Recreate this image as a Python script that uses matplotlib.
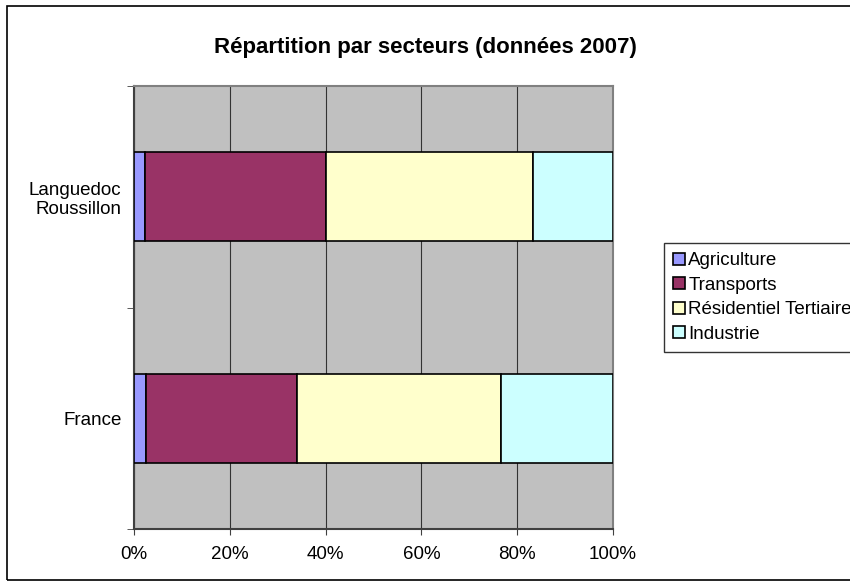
import matplotlib.pyplot as plt
from matplotlib.patches import Rectangle
import numpy as np

plt.rcParams['font.family'] = ['Liberation Sans', 'DejaVu Sans']

regions = ['France', 'Languedoc\nRoussillon']
sectors = ['Agriculture', 'Transports', 'Résidentiel Tertiaire', 'Industrie']
# percentages per sector: France, Languedoc Roussillon
agriculture = [2.6, 2.4]
transports = [31.4, 37.7]
residentiel = [42.6, 43.3]
industrie = [23.4, 16.6]
colors = ['#9999FF', '#993366', '#FFFFCC', '#CCFFFF']
xticks = [0, 20, 40, 60, 80, 100]

W, H = 850, 585
fig = plt.figure(figsize=(W / 100, H / 100), dpi=100)

# outer chart frame
fig.patches.append(Rectangle((7 / W, 1 - 580 / H), 900 / W, 574 / H,
                             transform=fig.transFigure, fill=False,
                             edgecolor='black', linewidth=1.2))

ax = fig.add_axes([134 / W, 1 - 529 / H, 479 / W, 443 / H])
ax.set_facecolor('#C0C0C0')

y = np.arange(len(regions))
left = np.zeros(len(regions))
for name, vals, c in zip(sectors, [agriculture, transports, residentiel, industrie], colors):
    ax.barh(y, vals, left=left, height=0.4, color=c, edgecolor='black',
            linewidth=1.2, label=name, zorder=3)
    left += np.array(vals)

ax.set_xlim(0, 100)
ax.set_ylim(-0.5, 1.5)
ax.set_xticks(xticks)
ax.set_xticklabels([f'{v}%' for v in xticks], fontsize=13.5)
ax.xaxis.grid(True, color='#333333', linewidth=0.8, zorder=1)
ax.set_axisbelow(True)

ax.set_yticks(y)
ax.set_yticklabels(regions, fontsize=13.5)
ax.set_yticks([-0.5, 0.5, 1.5], minor=True)
ax.tick_params(axis='y', which='major', length=0, pad=9)
ax.tick_params(axis='y', which='minor', length=5, direction='out', color='#404040')
ax.tick_params(axis='x', length=4, direction='out', color='#404040', pad=8)

for side in ['left', 'bottom']:
    ax.spines[side].set_color('#404040')
    ax.spines[side].set_linewidth(1.5)
for side in ['top', 'right']:
    ax.spines[side].set_color('#808080')
    ax.spines[side].set_linewidth(1.5)

fig.text(425 / W, 1 - 47 / H, 'Répartition par secteurs (données 2007)',
         ha='center', va='center', fontsize=16, fontweight='bold')

leg = fig.legend(loc='upper left', bbox_to_anchor=(664 / W, 1 - 243 / H),
                 fontsize=13.5, frameon=True, fancybox=False, borderpad=0.5,
                 handlelength=0.6, handleheight=0.6, handletextpad=0.2,
                 labelspacing=0.4, borderaxespad=0)
leg.get_frame().set_edgecolor('black')
leg.get_frame().set_linewidth(1.0)

fig.savefig('out.png', dpi=100)
